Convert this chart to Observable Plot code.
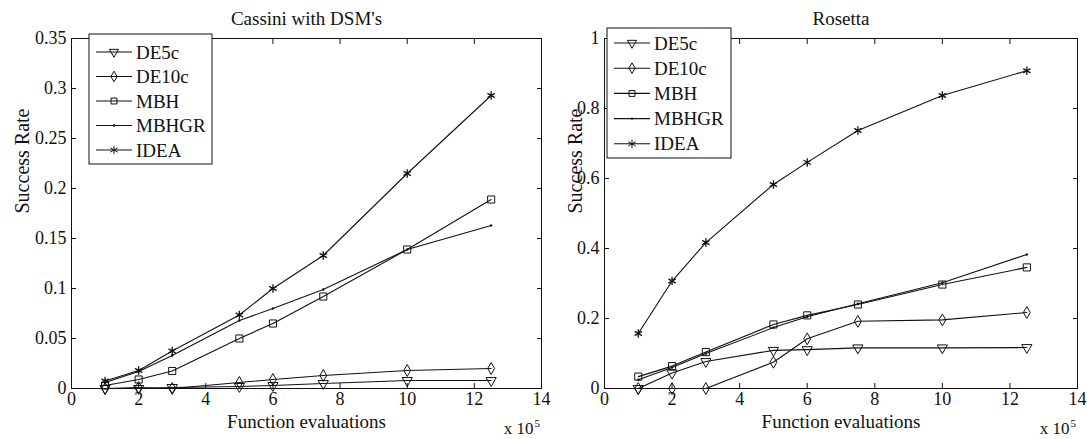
<!DOCTYPE html>
<html><head><meta charset="utf-8">
<script src="https://cdn.jsdelivr.net/npm/d3@7"></script>
<script src="https://cdn.jsdelivr.net/npm/@observablehq/plot@0.6"></script>
<style>
body{margin:0;background:#fff;}
#wrap{position:relative;width:1087px;height:439px;overflow:hidden;font-family:"Liberation Serif",serif;}
#wrap svg{position:absolute;top:0;}
</style></head><body><div id="wrap"></div>
<script>
const evals = [1, 2, 3, 5, 6, 7.5, 10, 12.5];
const seriesNames = ["DE5c", "DE10c", "MBH", "MBHGR", "IDEA"];
const cassiniDE5c  = [0, 0, 0.001, 0.002, 0.003, 0.005, 0.008, 0.008];
const cassiniDE10c = [0, 0.001, 0, 0.006, 0.009, 0.013, 0.018, 0.020];
const cassiniMBH   = [0.003, 0.009, 0.0175, 0.050, 0.065, 0.092, 0.139, 0.189];
const cassiniMBHGR = [0.006, 0.017, 0.033, 0.068, 0.080, 0.099, 0.139, 0.163];
const cassiniIDEA  = [0.0075, 0.018, 0.0375, 0.0735, 0.100, 0.133, 0.215, 0.293];
const rosettaDE5c  = [0, 0.044, 0.077, 0.109, 0.111, 0.116, 0.116, 0.117];
const rosettaDE10c = [0, 0, 0, 0.075, 0.142, 0.192, 0.196, 0.217];
const rosettaMBH   = [0.034, 0.064, 0.104, 0.183, 0.209, 0.240, 0.297, 0.346];
const rosettaMBHGR = [0.025, 0.060, 0.100, 0.174, 0.205, 0.242, 0.302, 0.383];
const rosettaIDEA  = [0.157, 0.307, 0.417, 0.583, 0.646, 0.737, 0.837, 0.908];
const xTicks = [0, 2, 4, 6, 8, 10, 12, 14];
const cassiniYTicks = [0, 0.05, 0.1, 0.15, 0.2, 0.25, 0.3, 0.35];
const rosettaYTicks = [0, 0.2, 0.4, 0.6, 0.8, 1];
const titles = ["Cassini with DSM's", "Rosetta"];
const xLabel = "Function evaluations";
const yLabel = "Success Rate";
const expLabel = "x 10";
const expSup = "5";

function rows(arrs) {
  const out = [];
  seriesNames.forEach((s, i) => evals.forEach((x, j) => out.push({series: s, x, y: arrs[i][j]})));
  return out;
}
const cassiniRows = rows([cassiniDE5c, cassiniDE10c, cassiniMBH, cassiniMBHGR, cassiniIDEA]);
const rosettaRows = rows([rosettaDE5c, rosettaDE10c, rosettaMBH, rosettaMBHGR, rosettaIDEA]);

const INK = "#111";
const FONT = "Liberation Serif, serif";

function panel(data, yTicks, yMax, title, o) {
  const by = s => data.filter(d => d.series === s);
  return Plot.plot({
    width: o.width, height: 439,
    marginLeft: o.ml, marginRight: o.mr, marginTop: 38, marginBottom: 51,
    style: {background: "transparent", overflow: "visible", fontFamily: FONT, fontSize: "18px", color: INK},
    x: {domain: [0, 14]},
    y: {domain: [0, yMax]},
    marks: [
      Plot.frame({stroke: INK, strokeWidth: 1}),
      Plot.axisX({anchor: "bottom", ticks: xTicks, tickSize: -5, tickPadding: 9, tickFormat: d => String(d), label: null, stroke: INK, fontSize: 18}),
      Plot.axisX({anchor: "top", ticks: xTicks, tickSize: -5, tickFormat: () => "", label: null, stroke: INK}),
      Plot.axisY({anchor: "left", ticks: yTicks, tickSize: -5, tickPadding: 10, tickFormat: d => String(d), label: null, stroke: INK, fontSize: 18}),
      Plot.axisY({anchor: "right", ticks: yTicks, tickSize: -5, tickFormat: () => "", label: null, stroke: INK}),
      Plot.line(data, {x: "x", y: "y", z: "series", stroke: INK, strokeWidth: 1.1}),
      Plot.dot(by("DE5c"), {x: "x", y: "y", symbol: "triangle", rotate: 180, r: 3.8, stroke: INK, fill: "none", strokeWidth: 1}),
      Plot.dot(by("DE10c"), {x: "x", y: "y", symbol: "diamond", r: 3.6, stroke: INK, fill: "none", strokeWidth: 1}),
      Plot.dot(by("MBH"), {x: "x", y: "y", symbol: "square", r: 4, stroke: INK, fill: "none", strokeWidth: 1}),
      Plot.dot(by("MBHGR"), {x: "x", y: "y", r: 1.2, fill: INK, stroke: "none"}),
      Plot.dot(by("IDEA"), {x: "x", y: "y", symbol: "asterisk", r: 4, stroke: INK, fill: "none", strokeWidth: 1.3}),
      Plot.text([title], {frameAnchor: "top", dy: -27, fontSize: 19, fill: INK}),
      Plot.text([xLabel], {frameAnchor: "bottom", dy: 39, fontSize: 19, fill: INK}),
      Plot.text([yLabel], {frameAnchor: "left", dx: o.ylabelDx, rotate: -90, fontSize: 20, fill: INK}),
      Plot.text([expLabel], {frameAnchor: "bottom-right", textAnchor: "end", dx: -8, dy: 45, fontSize: 17, fill: INK}),
      Plot.text([expSup], {frameAnchor: "bottom-right", textAnchor: "start", dx: -7, dy: 38, fontSize: 11, fill: INK})
    ]
  });
}

const wrap = document.getElementById("wrap");
const left = panel(cassiniRows, cassiniYTicks, 0.35, titles[0], {width: 560, ml: 71, mr: 19, ylabelDx: -49});
left.style.left = "0px";
wrap.appendChild(left);
const right = panel(rosettaRows, rosettaYTicks, 1, titles[1], {width: 527, ml: 44, mr: 10, ylabelDx: -29});
right.style.left = "560px";
wrap.appendChild(right);

// legends
const leg = d3.select(wrap).append("svg")
  .attr("width", 1087).attr("height", 439)
  .style("left", "0px").style("pointer-events", "none");
const symbolDefs = {
  DE5c: {type: d3.symbolTriangle, size: Math.PI * 3.8 * 3.8 * 0.8, rotate: 180, fill: "none"},
  DE10c: {type: d3.symbolDiamond, size: Math.PI * 3.6 * 3.6 * 0.8, rotate: 0, fill: "none"},
  MBH: {type: d3.symbolSquare, size: Math.PI * 4 * 4 * 0.7, rotate: 0, fill: "none"},
  MBHGR: {type: d3.symbolCircle, size: Math.PI * 1.2 * 1.2, rotate: 0, fill: INK},
  IDEA: {type: d3.symbolAsterisk, size: Math.PI * 4 * 4, rotate: 0, fill: "none"}
};
function legend(bx, by, bw, bh, firstY, step) {
  const g = leg.append("g");
  g.append("rect").attr("x", bx).attr("y", by).attr("width", bw).attr("height", bh)
    .attr("fill", "#fff").attr("stroke", INK).attr("stroke-width", 1);
  seriesNames.forEach((s, i) => {
    const y = firstY + i * step;
    g.append("line").attr("x1", bx + 7).attr("x2", bx + 43).attr("y1", y).attr("y2", y)
      .attr("stroke", INK).attr("stroke-width", 1.1);
    const sd = symbolDefs[s];
    g.append("path").attr("d", d3.symbol(sd.type, sd.size)())
      .attr("transform", `translate(${bx + 25},${y}) rotate(${sd.rotate})`)
      .attr("fill", sd.fill).attr("stroke", sd.fill === "none" ? INK : "none").attr("stroke-width", 1);
    g.append("text").attr("x", bx + 47).attr("y", y).attr("dy", "0.35em")
      .attr("font-family", FONT).attr("font-size", 19).attr("fill", INK).text(s);
  });
}
legend(89, 34, 123, 130, 52, 24.5);
legend(607, 28, 124, 130, 43, 25.2);
</script></body></html>
